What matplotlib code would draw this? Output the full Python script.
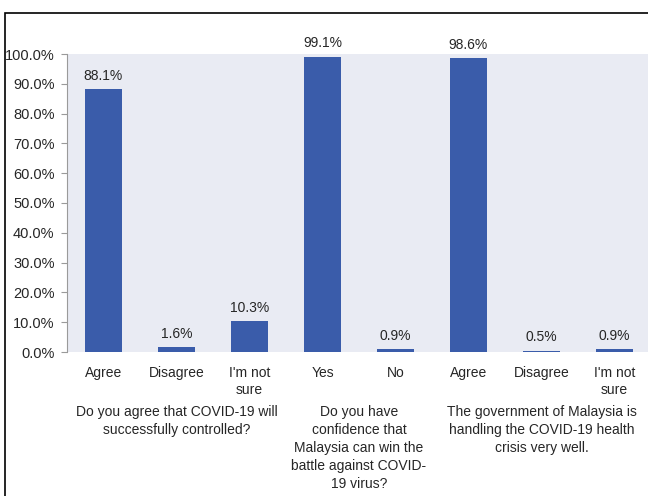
import matplotlib.pyplot as plt
from matplotlib.patches import Rectangle

# survey responses, in percent
categories = ['Agree', 'Disagree', "I'm not\nsure", 'Yes', 'No', 'Agree', 'Disagree', "I'm not\nsure"]
values = [88.1, 1.6, 10.3, 99.1, 0.9, 98.6, 0.5, 0.9]
questions = ['Do you agree that COVID-19 will\nsuccessfully controlled?',
             'Do you have\nconfidence that\nMalaysia can win the\nbattle against COVID-\n19 virus?',
             'The government of Malaysia is\nhandling the COVID-19 health\ncrisis very well.']
question_centers = [1.0, 3.5, 6.0]  # middle of each question's answer group
yticks = [0, 10, 20, 30, 40, 50, 60, 70, 80, 90, 100]

plt.rcParams['font.family'] = ['Liberation Sans', 'DejaVu Sans']
bar_color = '#3A5CAA'
text_color = '#262626'
fs = 10

fig = plt.figure(figsize=(6.48, 4.96), dpi=100)
ax = fig.add_axes([67 / 648, 1 - 352 / 496, 584 / 648, 298 / 496])
ax.set_facecolor('#E9EBF3')

x = list(range(len(values)))
bars = ax.bar(x, values, width=0.5, color=bar_color)
for b, v in zip(bars, values):
    ax.annotate(f'{v:.1f}%', (b.get_x() + b.get_width() / 2, v), xytext=(0, 4.5),
                textcoords='offset points', ha='center', va='bottom', fontsize=fs, color=text_color)

ax.set_xlim(-0.5, 7.5)
ax.set_ylim(0, 100)
ax.set_yticks(yticks)
ax.set_yticklabels([f'{t:.1f}%' for t in yticks])
ax.set_xticks(x)
ax.set_xticklabels(categories, linespacing=1.25)
ax.tick_params(axis='y', length=4, color='#9A9A9A', pad=5, labelsize=10.5, labelcolor=text_color)
ax.tick_params(axis='x', length=0, pad=10, labelsize=fs, labelcolor=text_color)
for s in ['top', 'right', 'bottom']:
    ax.spines[s].set_visible(False)
ax.spines['left'].set_color('#9A9A9A')
ax.spines['left'].set_linewidth(0.8)

# question text under each answer group
for q, c in zip(questions, question_centers):
    ax.text(c, -53 / 298, q, transform=ax.get_xaxis_transform(), ha='center', va='top',
            fontsize=fs, color=text_color, linespacing=1.37)

# outer frame
fig.patches.append(Rectangle((5 / 648, -0.05), 1.2, 1 - 13 / 496 + 0.05, transform=fig.transFigure,
                             fill=False, edgecolor='black', linewidth=1.2))

plt.savefig('out.png', dpi=100)
